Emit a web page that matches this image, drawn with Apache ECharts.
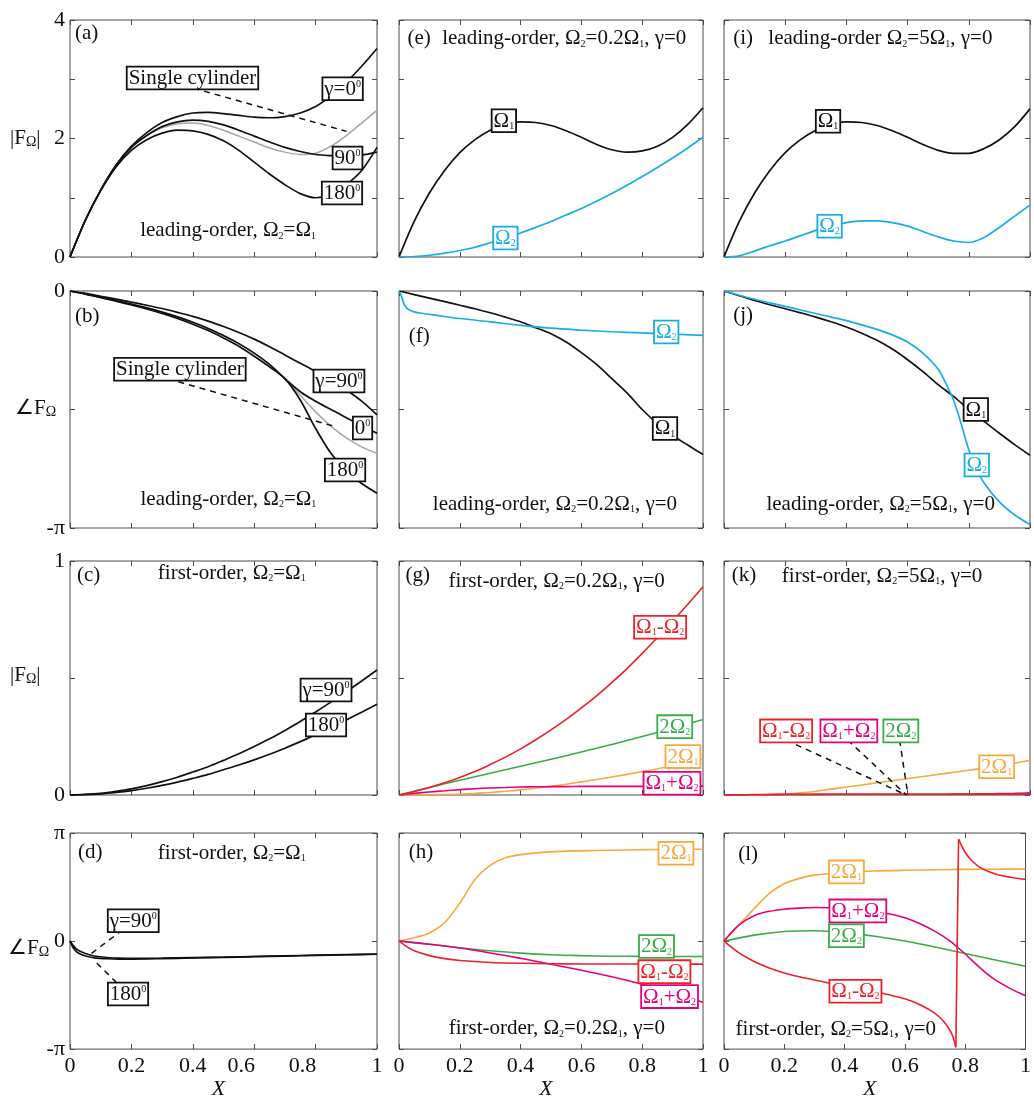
<!DOCTYPE html>
<html>
<head>
<meta charset="utf-8">
<title>Hydrodynamic force on tandem cylinders</title>
<script src="https://cdn.jsdelivr.net/npm/echarts/dist/echarts.min.js"></script>
<style>
  html, body { margin: 0; padding: 0; background: #fff; }
  #chart { width: 1034px; height: 1101px; }
</style>
</head>
<body>
<div id="chart"></div>
<script>
// ---------------------------------------------------------------
// Data: force amplitude |F| and phase (in units of pi) along X
// ---------------------------------------------------------------
const xs = [0, 0.05, 0.1, 0.15, 0.2, 0.25, 0.3, 0.35, 0.4, 0.45, 0.5, 0.55, 0.6, 0.65, 0.7, 0.75, 0.8, 0.85, 0.9, 0.95, 1];

// tick labels
const xTickText = { 0: '0', 0.2: '0.2', 0.4: '0.4', 0.6: '0.6', 0.8: '0.8', 1: '1' };
const magTickText = { 0: '0', 2: '2', 4: '4' };
const phaseHalfTickText = { 0: '0', '-1': '-π' };
const firstMagTickText = { 0: '0', 1: '1' };
const phaseFullTickText = { 1: 'π', 0: '0', '-1': '-π' };

// (a) leading-order amplitude, equal frequencies
const aSingle = [0, 0.62, 1.13, 1.55, 1.85, 2.05, 2.18, 2.25, 2.26, 2.22, 2.14, 2.04, 1.94, 1.84, 1.77, 1.73, 1.75, 1.87, 2.05, 2.26, 2.48];
const aGamma0 = [0, 0.62, 1.13, 1.55, 1.87, 2.1, 2.27, 2.37, 2.43, 2.44, 2.42, 2.39, 2.36, 2.35, 2.37, 2.43, 2.54, 2.72, 2.95, 3.22, 3.52];
const aGamma90 = [0, 0.62, 1.13, 1.55, 1.85, 2.05, 2.2, 2.28, 2.31, 2.29, 2.23, 2.14, 2.04, 1.94, 1.85, 1.78, 1.73, 1.71, 1.7, 1.72, 1.77];
const aGamma180 = [0, 0.62, 1.12, 1.52, 1.8, 1.98, 2.09, 2.14, 2.13, 2.07, 1.96, 1.8, 1.6, 1.4, 1.22, 1.07, 1.0, 1.05, 1.22, 1.46, 1.85];

// (b) leading-order phase, equal frequencies
const bGamma90 = [0, -0.01, -0.022, -0.034, -0.047, -0.06, -0.074, -0.09, -0.107, -0.127, -0.15, -0.175, -0.203, -0.235, -0.27, -0.305, -0.34, -0.378, -0.418, -0.465, -0.523];
const bGamma0 = [0, -0.012, -0.026, -0.04, -0.055, -0.071, -0.089, -0.109, -0.132, -0.158, -0.188, -0.222, -0.262, -0.31, -0.37, -0.425, -0.465, -0.5, -0.535, -0.568, -0.6];
const bSingle = [0, -0.012, -0.026, -0.04, -0.055, -0.071, -0.089, -0.109, -0.132, -0.158, -0.188, -0.222, -0.262, -0.31, -0.37, -0.44, -0.51, -0.57, -0.62, -0.658, -0.685];
const bGamma180 = [0, -0.013, -0.028, -0.043, -0.059, -0.076, -0.095, -0.116, -0.14, -0.167, -0.198, -0.233, -0.275, -0.32, -0.37, -0.46, -0.58, -0.685, -0.76, -0.812, -0.853];

// (c) first-order amplitude, equal frequencies
const cGamma90 = [0, 0.0024, 0.0071, 0.0155, 0.026, 0.04, 0.057, 0.076, 0.098, 0.121, 0.148, 0.176, 0.207, 0.24, 0.276, 0.314, 0.355, 0.397, 0.441, 0.487, 0.534];
const cGamma180 = [0, 0.0017, 0.0052, 0.0113, 0.019, 0.029, 0.041, 0.055, 0.071, 0.088, 0.108, 0.128, 0.15, 0.174, 0.2, 0.228, 0.258, 0.289, 0.321, 0.354, 0.388];

// (d) first-order phase, equal frequencies
const dX = [0, 0.01, 0.02, 0.03, 0.05, 0.08, 0.12, 0.16, 0.2, 0.3, 0.4, 0.5, 0.6, 0.7, 0.8, 0.9, 1];
const dGamma90 = [0, -0.04, -0.07, -0.09, -0.115, -0.138, -0.152, -0.158, -0.16, -0.158, -0.154, -0.149, -0.143, -0.137, -0.131, -0.126, -0.12];
const dGamma180 = [0, -0.06, -0.095, -0.115, -0.138, -0.155, -0.164, -0.167, -0.167, -0.163, -0.157, -0.151, -0.145, -0.139, -0.133, -0.127, -0.122];

// (e) leading-order amplitude, Omega2 = 0.2 Omega1
const eOmega1 = [0, 0.6, 1.08, 1.46, 1.76, 1.98, 2.14, 2.24, 2.28, 2.27, 2.22, 2.13, 2.02, 1.9, 1.81, 1.77, 1.79, 1.87, 2.02, 2.24, 2.52];
const eOmega2 = [0, 0.008, 0.03, 0.065, 0.11, 0.165, 0.24, 0.32, 0.405, 0.5, 0.6, 0.71, 0.82, 0.94, 1.07, 1.21, 1.36, 1.51, 1.67, 1.84, 2.02];

// (f) leading-order phase, Omega2 = 0.2 Omega1
const fOmega1 = [0, -0.015, -0.03, -0.045, -0.06, -0.075, -0.092, -0.11, -0.13, -0.155, -0.18, -0.215, -0.26, -0.31, -0.37, -0.43, -0.5, -0.56, -0.61, -0.65, -0.69];
const fX2 = [0, 0.005, 0.01, 0.015, 0.02, 0.03, 0.05, 0.08, 0.12, 0.2, 0.3, 0.4, 0.5, 0.6, 0.7, 0.8, 0.9, 1];
const fOmega2 = [0, -0.012, -0.03, -0.05, -0.063, -0.077, -0.088, -0.095, -0.102, -0.116, -0.13, -0.145, -0.157, -0.165, -0.172, -0.177, -0.182, -0.187];

// (g) first-order amplitude, Omega2 = 0.2 Omega1
const gDiff = [0, 0.015, 0.032, 0.052, 0.075, 0.1, 0.13, 0.162, 0.197, 0.236, 0.278, 0.323, 0.372, 0.424, 0.48, 0.54, 0.605, 0.673, 0.743, 0.815, 0.89];
const gTwo2 = [0, 0.016, 0.032, 0.048, 0.063, 0.078, 0.093, 0.108, 0.123, 0.138, 0.153, 0.168, 0.184, 0.2, 0.216, 0.233, 0.25, 0.267, 0.285, 0.304, 0.323];
const gTwo1 = [0, 0, 0.001, 0.002, 0.004, 0.007, 0.011, 0.016, 0.022, 0.029, 0.037, 0.046, 0.056, 0.066, 0.077, 0.088, 0.1, 0.112, 0.125, 0.139, 0.153];
const gSum = [0, 0.007, 0.013, 0.018, 0.023, 0.027, 0.03, 0.032, 0.034, 0.035, 0.036, 0.036, 0.037, 0.037, 0.037, 0.037, 0.037, 0.038, 0.038, 0.038, 0.038];

// (h) first-order phase, Omega2 = 0.2 Omega1
const hTwo1X = [0, 0.05, 0.1, 0.15, 0.2, 0.25, 0.3, 0.35, 0.4, 0.5, 0.6, 0.7, 0.8, 0.9, 1];
const hTwo1 = [0, 0.03, 0.075, 0.17, 0.35, 0.57, 0.7, 0.77, 0.8, 0.825, 0.835, 0.84, 0.845, 0.848, 0.85];
const hTwo2X = [0, 0.1, 0.2, 0.3, 0.4, 0.5, 0.6, 0.7, 0.8, 0.9, 1];
const hTwo2 = [0, -0.03, -0.062, -0.09, -0.112, -0.127, -0.135, -0.14, -0.142, -0.143, -0.143];
const hDiffX = [0, 0.025, 0.05, 0.1, 0.15, 0.2, 0.3, 0.4, 0.5, 0.6, 0.8, 1];
const hDiff = [0, -0.05, -0.09, -0.135, -0.163, -0.18, -0.198, -0.206, -0.21, -0.212, -0.213, -0.214];
const hSumX = [0, 0.1, 0.2, 0.3, 0.4, 0.5, 0.6, 0.7, 0.8, 0.9, 1];
const hSum = [0, -0.03, -0.065, -0.11, -0.16, -0.215, -0.27, -0.33, -0.4, -0.48, -0.566];

// (i) leading-order amplitude, Omega2 = 5 Omega1
const iOmega1 = [0, 0.6, 1.08, 1.46, 1.76, 1.98, 2.14, 2.24, 2.28, 2.27, 2.22, 2.13, 2.02, 1.9, 1.8, 1.75, 1.75, 1.83, 1.98, 2.2, 2.5];
const iOmega2 = [0, 0.02, 0.1, 0.19, 0.27, 0.36, 0.45, 0.52, 0.58, 0.61, 0.61, 0.58, 0.52, 0.43, 0.34, 0.27, 0.245, 0.33, 0.5, 0.69, 0.875];

// (j) leading-order phase, Omega2 = 5 Omega1
const jOmega1 = [0, -0.02, -0.04, -0.058, -0.075, -0.092, -0.11, -0.13, -0.152, -0.178, -0.208, -0.245, -0.29, -0.34, -0.395, -0.445, -0.5, -0.55, -0.6, -0.648, -0.693];
const jX2 = [0, 0.05, 0.1, 0.15, 0.2, 0.25, 0.3, 0.35, 0.4, 0.45, 0.5, 0.55, 0.6, 0.65, 0.7, 0.725, 0.75, 0.775, 0.8, 0.825, 0.85, 0.9, 0.95, 1];
const jOmega2 = [0, -0.018, -0.035, -0.05, -0.065, -0.08, -0.095, -0.11, -0.125, -0.143, -0.162, -0.185, -0.215, -0.262, -0.33, -0.39, -0.46, -0.56, -0.67, -0.75, -0.81, -0.89, -0.945, -0.985];

// (k) first-order amplitude, Omega2 = 5 Omega1
const kTwo1 = [0, 0, 0.0005, 0.001, 0.004, 0.009, 0.016, 0.025, 0.034, 0.043, 0.052, 0.061, 0.07, 0.079, 0.088, 0.097, 0.106, 0.115, 0.125, 0.136, 0.148];
const kTwo2 = [0, 0.0003, 0.0006, 0.001, 0.001, 0.001, 0.001, 0.001, 0.001, 0.001, 0.001, 0.001, 0.001, 0.001, 0.001, 0.001, 0.001, 0.0015, 0.002, 0.0025, 0.003];
const kSum = [0, 0.001, 0.002, 0.002, 0.003, 0.003, 0.003, 0.003, 0.003, 0.003, 0.003, 0.003, 0.003, 0.003, 0.003, 0.004, 0.004, 0.005, 0.006, 0.007, 0.009];
const kDiff = [0, 0.0005, 0.001, 0.0015, 0.002, 0.002, 0.0025, 0.003, 0.003, 0.003, 0.003, 0.003, 0.003, 0.003, 0.003, 0.003, 0.003, 0.003, 0.003, 0.003, 0.003];

// (l) first-order phase, Omega2 = 5 Omega1
const lTwo1X = [0, 0.05, 0.1, 0.15, 0.2, 0.25, 0.3, 0.4, 0.5, 0.6, 0.7, 0.8, 0.9, 1];
const lTwo1 = [0, 0.15, 0.3, 0.44, 0.53, 0.58, 0.61, 0.635, 0.648, 0.655, 0.66, 0.663, 0.665, 0.666];
const lSum = [0, 0.15, 0.235, 0.275, 0.295, 0.305, 0.31, 0.308, 0.3, 0.29, 0.275, 0.25, 0.215, 0.16, 0.09, 0.0, -0.12, -0.25, -0.36, -0.44, -0.506];
const lTwo2X = [0, 0.1, 0.2, 0.3, 0.4, 0.5, 0.6, 0.7, 0.8, 0.9, 1];
const lTwo2 = [0, 0.055, 0.088, 0.095, 0.078, 0.045, 0.0, -0.055, -0.115, -0.175, -0.234];
// the difference-frequency phase wraps from -pi to +pi near X = 0.77
const lDiffBeforeX = [0, 0.05, 0.1, 0.15, 0.2, 0.25, 0.3, 0.35, 0.4, 0.45, 0.5, 0.55, 0.6, 0.65, 0.7, 0.73, 0.75, 0.76, 0.769];
const lDiffBefore = [0, -0.11, -0.19, -0.25, -0.295, -0.33, -0.36, -0.39, -0.42, -0.445, -0.47, -0.5, -0.535, -0.59, -0.67, -0.75, -0.83, -0.89, -0.983];
const lDiffAfterX = [0.778, 0.785, 0.8, 0.82, 0.85, 0.9, 0.95, 1];
const lDiffAfter = [0.943, 0.9, 0.82, 0.75, 0.68, 0.62, 0.59, 0.571];

// ---------------------------------------------------------------
// Styling and layout
// ---------------------------------------------------------------
const FONT = '"Liberation Serif", "Times New Roman", Times, serif';
const FRAME = '#4a4a4a';
const INK = '#111111';
const COL = {
  black: '#111111', gray: '#a6a6a6', blue: '#17aee8', red: '#ee2127',
  green: '#39ad48', orange: '#f9a83c', magenta: '#e5007d'
};

const COLS = [{ left: 70, width: 307 }, { left: 399, width: 304 }, { left: 724, width: 306 }];
const ROWS = [{ top: 20, height: 237 }, { top: 291, height: 237 }, { top: 561, height: 234 }, { top: 833, height: 233 }];
const ROW_AXIS = [
  { min: 0, max: 4, interval: 1, text: magTickText },
  { min: -1, max: 0, interval: 0.5, text: phaseHalfTickText },
  { min: 0, max: 1, interval: 0.5, text: firstMagTickText },
  { min: -1, max: 1, interval: 1, text: phaseFullTickText }
];

function richFor(color) {
  return {
    s: { fontSize: 10, lineHeight: 10, verticalAlign: 'bottom', fontFamily: FONT, color },
    p: { fontSize: 10, lineHeight: 10, verticalAlign: 'top', fontFamily: FONT, color },
    sb: { fontSize: 14, lineHeight: 12, verticalAlign: 'bottom', fontFamily: FONT, color },
    // left-shifted tick text on the first column
    sh: { fontSize: 22, fontFamily: FONT, color, padding: [0, 26, 0, 0] }
  };
}

// text placed inside each panel (data coordinates of that panel)
const notes = {
  0: [
    { t: '(a)', x: 0.016, y: 3.77, left: true },
    { t: 'leading-order, Ω{s|2}=Ω{s|1}', x: 0.515, y: 0.44 },
    { t: 'Single cylinder', x: 0.399, y: 3.02, box: true },
    { t: 'γ=0{p|0}', x: 0.888, y: 2.84, box: true },
    { t: '90{p|0}', x: 0.904, y: 1.67, box: true },
    { t: '180{p|0}', x: 0.886, y: 1.08, box: true }
  ],
  1: [
    { t: '(b)', x: 0.016, y: -0.109, left: true },
    { t: 'leading-order, Ω{s|2}=Ω{s|1}', x: 0.516, y: -0.88 },
    { t: 'Single cylinder', x: 0.358, y: -0.33, box: true },
    { t: 'γ=90{p|0}', x: 0.876, y: -0.38, box: true },
    { t: '0{p|0}', x: 0.953, y: -0.578, box: true },
    { t: '180{p|0}', x: 0.896, y: -0.755, box: true }
  ],
  2: [
    { t: '(c)', x: 0.023, y: 0.94, left: true },
    { t: 'first-order, Ω{s|2}=Ω{s|1}', x: 0.527, y: 0.947 },
    { t: 'γ=90{p|0}', x: 0.834, y: 0.449, box: true },
    { t: '180{p|0}', x: 0.834, y: 0.299, box: true }
  ],
  3: [
    { t: '(d)', x: 0.026, y: 0.818, left: true },
    { t: 'first-order, Ω{s|2}=Ω{s|1}', x: 0.527, y: 0.813 },
    { t: 'γ=90{p|0}', x: 0.206, y: 0.188, box: true },
    { t: '180{p|0}', x: 0.189, y: -0.49, box: true }
  ],
  4: [
    { t: '(e)', x: 0.028, y: 3.68, left: true },
    { t: 'leading-order, Ω{s|2}=0.2Ω{s|1}, γ=0', x: 0.142, y: 3.68, left: true },
    { t: 'Ω{s|1}', x: 0.345, y: 2.3, box: true },
    { t: 'Ω{s|2}', x: 0.35, y: 0.32, box: true, color: COL.blue }
  ],
  5: [
    { t: '(f)', x: 0.032, y: -0.194, left: true },
    { t: 'leading-order, Ω{s|2}=0.2Ω{s|1}, γ=0', x: 0.513, y: -0.902 },
    { t: 'Ω{s|2}', x: 0.879, y: -0.173, box: true, color: COL.blue },
    { t: 'Ω{s|1}', x: 0.875, y: -0.58, box: true }
  ],
  6: [
    { t: '(g)', x: 0.021, y: 0.94, left: true },
    { t: 'first-order, Ω{s|2}=0.2Ω{s|1}, γ=0', x: 0.163, y: 0.912, left: true },
    { t: 'Ω{s|1}-Ω{s|2}', x: 0.859, y: 0.717, box: true, color: COL.red },
    { t: '2Ω{s|2}', x: 0.907, y: 0.292, box: true, color: COL.green },
    { t: '2Ω{s|1}', x: 0.934, y: 0.164, box: true, color: COL.orange },
    { t: 'Ω{s|1}+Ω{s|2}', x: 0.898, y: 0.05, box: true, color: COL.magenta }
  ],
  7: [
    { t: '(h)', x: 0.032, y: 0.822, left: true },
    { t: 'first-order, Ω{s|2}=0.2Ω{s|1}, γ=0', x: 0.519, y: -0.813 },
    { t: '2Ω{s|1}', x: 0.911, y: 0.813, box: true, color: COL.orange },
    { t: '2Ω{s|2}', x: 0.847, y: -0.05, box: true, color: COL.green },
    { t: 'Ω{s|1}-Ω{s|2}', x: 0.873, y: -0.283, box: true, color: COL.red },
    { t: 'Ω{s|1}+Ω{s|2}', x: 0.89, y: -0.514, box: true, color: COL.magenta }
  ],
  8: [
    { t: '(i)', x: 0.03, y: 3.68, left: true },
    { t: 'leading-order Ω{s|2}=5Ω{s|1}, γ=0', x: 0.145, y: 3.68, left: true },
    { t: 'Ω{s|1}', x: 0.34, y: 2.29, box: true },
    { t: 'Ω{s|2}', x: 0.345, y: 0.52, box: true, color: COL.blue }
  ],
  9: [
    { t: '(j)', x: 0.03, y: -0.105, left: true },
    { t: 'leading-order, Ω{s|2}=5Ω{s|1}, γ=0', x: 0.512, y: -0.9 },
    { t: 'Ω{s|1}', x: 0.823, y: -0.5, box: true },
    { t: 'Ω{s|2}', x: 0.826, y: -0.734, box: true, color: COL.blue }
  ],
  10: [
    { t: '(k)', x: 0.025, y: 0.94, left: true },
    { t: 'first-order, Ω{s|2}=5Ω{s|1}, γ=0', x: 0.189, y: 0.933, left: true },
    { t: 'Ω{s|1}-Ω{s|2}', x: 0.203, y: 0.274, box: true, color: COL.red },
    { t: 'Ω{s|1}+Ω{s|2}', x: 0.408, y: 0.274, box: true, color: COL.magenta },
    { t: '2Ω{s|2}', x: 0.578, y: 0.274, box: true, color: COL.green },
    { t: '2Ω{s|1}', x: 0.891, y: 0.121, box: true, color: COL.orange }
  ],
  11: [
    { t: '(l)', x: 0.047, y: 0.8, left: true },
    { t: 'first-order, Ω{s|2}=5Ω{s|1}, γ=0', x: 0.371, y: -0.818 },
    { t: '2Ω{s|1}', x: 0.406, y: 0.64, box: true, color: COL.orange },
    { t: 'Ω{s|1}+Ω{s|2}', x: 0.444, y: 0.279, box: true, color: COL.magenta },
    { t: '2Ω{s|2}', x: 0.406, y: 0.05, box: true, color: COL.green },
    { t: 'Ω{s|1}-Ω{s|2}', x: 0.436, y: -0.465, box: true, color: COL.red }
  ]
};

// dashed pointers from a label to its curve
const pointers = {
  0: [[[0.402, 2.85], [0.901, 2.12]]],
  1: [[[0.353, -0.383], [0.858, -0.57]]],
  3: [[[0.2, 0.165], [0.07, -0.114]], [[0.152, -0.385], [0.076, -0.171]]],
  10: [[[0.202, 0.235], [0.596, 0.0]], [[0.404, 0.235], [0.596, 0.0]], [[0.574, 0.235], [0.601, 0.0]]]
};

// ---------------------------------------------------------------
// Build option
// ---------------------------------------------------------------
const grids = [], xAxes = [], yAxes = [], series = [];

function tickFrom(map, v) {
  const key = Object.keys(map).find(k => Math.abs(parseFloat(k) - v) < 1e-6);
  return key === undefined ? '' : map[key];
}

for (let c = 0; c < 3; c++) {
  for (let r = 0; r < 4; r++) {
    const g = c * 4 + r;
    const ra = ROW_AXIS[r];
    grids.push({
      left: COLS[c].left, top: ROWS[r].top, width: COLS[c].width, height: ROWS[r].height,
      show: true, borderColor: FRAME, borderWidth: 1, backgroundColor: 'transparent'
    });
    const tick = { show: true, inside: true, length: 5, lineStyle: { color: FRAME, width: 1 } };
    const hidden = { show: false, onZero: false };
    const bottom = r === 3;
    xAxes.push({
      gridIndex: g, type: 'value', min: 0, max: 1, interval: 0.2, position: 'bottom',
      axisLine: hidden, axisTick: tick, splitLine: { show: false },
      axisLabel: {
        show: bottom, margin: 6, color: INK, fontFamily: FONT, fontSize: 22,
        rich: richFor(INK),
        formatter: v => {
          const s = tickFrom(xTickText, v);
          // the first column squeezes 0.6 and 0.8 toward the X name
          return (c === 0 && (Math.abs(v - 0.6) < 1e-6 || Math.abs(v - 0.8) < 1e-6)) ? '{sh|' + s + '}' : s;
        }
      },
      name: bottom ? 'X' : '', nameLocation: 'middle', nameGap: 20,
      nameTextStyle: { fontFamily: FONT, fontStyle: 'italic', fontSize: 22, color: INK, padding: [0, 10, 0, 0] }
    });
    xAxes.push({
      gridIndex: g, type: 'value', min: 0, max: 1, interval: 0.2, position: 'top',
      axisLine: hidden, axisTick: tick, splitLine: { show: false }, axisLabel: { show: false }
    });
    yAxes.push({
      gridIndex: g, type: 'value', min: ra.min, max: ra.max, interval: ra.interval, position: 'left',
      axisLine: hidden, axisTick: tick, splitLine: { show: false },
      axisLabel: {
        show: c === 0, margin: 5, color: INK, fontFamily: FONT, fontSize: 22,
        formatter: v => tickFrom(ra.text, v)
      }
    });
    yAxes.push({
      gridIndex: g, type: 'value', min: ra.min, max: ra.max, interval: ra.interval, position: 'right',
      axisLine: hidden, axisTick: tick, splitLine: { show: false }, axisLabel: { show: false }
    });
  }
}

function pts(xArr, yArr) { return xArr.map((x, i) => [x, yArr[i]]); }

function curve(g, xArr, yArr, color, width, smooth) {
  series.push({
    type: 'line', xAxisIndex: 2 * g, yAxisIndex: 2 * g, data: pts(xArr, yArr),
    symbol: 'none', showSymbol: false, smooth: smooth === undefined ? 0.3 : smooth,
    lineStyle: { color, width: width || 1.5 }, silent: true, z: 2
  });
}

// (a)
curve(0, xs, aSingle, COL.gray, 1.5);
curve(0, xs, aGamma0, COL.black, 1.7);
curve(0, xs, aGamma90, COL.black, 1.7);
curve(0, xs, aGamma180, COL.black, 1.7);
// (b)
curve(1, xs, bSingle, COL.gray, 1.5);
curve(1, xs, bGamma90, COL.black, 1.7);
curve(1, xs, bGamma0, COL.black, 1.7);
curve(1, xs, bGamma180, COL.black, 1.7);
// (c)
curve(2, xs, cGamma90, COL.black, 1.7);
curve(2, xs, cGamma180, COL.black, 1.7);
// (d)
curve(3, dX, dGamma90, COL.black, 1.7);
curve(3, dX, dGamma180, COL.black, 1.7);
// (e)
curve(4, xs, eOmega1, COL.black, 1.7);
curve(4, xs, eOmega2, COL.blue, 1.7);
// (f)
curve(5, xs, fOmega1, COL.black, 1.7);
curve(5, fX2, fOmega2, COL.blue, 1.7);
// (g)
curve(6, xs, gTwo2, COL.green, 1.6);
curve(6, xs, gTwo1, COL.orange, 1.6);
curve(6, xs, gSum, COL.magenta, 1.6);
curve(6, xs, gDiff, COL.red, 1.6);
// (h)
curve(7, hTwo1X, hTwo1, COL.orange, 1.6);
curve(7, hTwo2X, hTwo2, COL.green, 1.6);
curve(7, hSumX, hSum, COL.magenta, 1.6);
curve(7, hDiffX, hDiff, COL.red, 1.6);
// (i)
curve(8, xs, iOmega1, COL.black, 1.7);
curve(8, xs, iOmega2, COL.blue, 1.7);
// (j)
curve(9, xs, jOmega1, COL.black, 1.7);
curve(9, jX2, jOmega2, COL.blue, 1.7);
// (k)
curve(10, xs, kTwo1, COL.orange, 1.6);
curve(10, xs, kTwo2, COL.green, 1.6);
curve(10, xs, kSum, COL.magenta, 1.6);
curve(10, xs, kDiff, COL.red, 1.6);
// (l)
curve(11, lTwo1X, lTwo1, COL.orange, 1.6);
curve(11, lTwo2X, lTwo2, COL.green, 1.6);
curve(11, xs, lSum, COL.magenta, 1.6);
curve(11, lDiffBeforeX, lDiffBefore, COL.red, 1.6);
curve(11, lDiffAfterX, lDiffAfter, COL.red, 1.6);
// vertical wrap of the phase between the two branches
curve(11,
  [lDiffBeforeX[lDiffBeforeX.length - 1], lDiffAfterX[0]],
  [lDiffBefore[lDiffBefore.length - 1], lDiffAfter[0]], COL.red, 1.6, false);

// dashed pointers
Object.keys(pointers).forEach(k => {
  const g = +k;
  pointers[k].forEach(seg => {
    series.push({
      type: 'line', xAxisIndex: 2 * g, yAxisIndex: 2 * g, data: seg, symbol: 'none',
      lineStyle: { color: COL.black, width: 1.5, type: [6, 5] }, silent: true, z: 3
    });
  });
});

// in-panel text and boxed labels
Object.keys(notes).forEach(k => {
  const g = +k;
  series.push({
    type: 'scatter', xAxisIndex: 2 * g, yAxisIndex: 2 * g, symbolSize: 0, silent: true, z: 10,
    itemStyle: { color: 'transparent', opacity: 1 },
    data: notes[k].map(it => {
      const col = it.color || INK;
      return {
        value: [it.x, it.y],
        label: {
          show: true, position: it.left ? 'right' : 'inside', distance: 0,
          formatter: it.t, color: col, fontFamily: FONT, fontSize: 21, lineHeight: 20,
          backgroundColor: it.box ? '#fff' : 'transparent',
          borderColor: it.box ? col : 'transparent', borderWidth: it.box ? 1.8 : 0,
          padding: it.box ? [1, 1, 0, 1] : 0,
          rich: richFor(col)
        }
      };
    })
  });
});

// axis quantity names at the left of each row
const yNames = [
  { text: '|F{sb|Ω}|', left: 10, top: 128 },
  { text: '∠F{sb|Ω}', left: 15, top: 398 },
  { text: '|F{sb|Ω}|', left: 10, top: 665 },
  { text: '∠F{sb|Ω}', left: 8, top: 938 }
];

const option = {
  animation: false,
  backgroundColor: '#ffffff',
  grid: grids,
  xAxis: xAxes,
  yAxis: yAxes,
  series: series,
  graphic: yNames.map(n => ({
    type: 'text', left: n.left, top: n.top, silent: true,
    style: { text: n.text, fill: INK, font: '21px ' + FONT, rich: richFor(INK) }
  }))
};

const chart = echarts.init(document.getElementById('chart'));
chart.setOption(option);
</script>
</body>
</html>
